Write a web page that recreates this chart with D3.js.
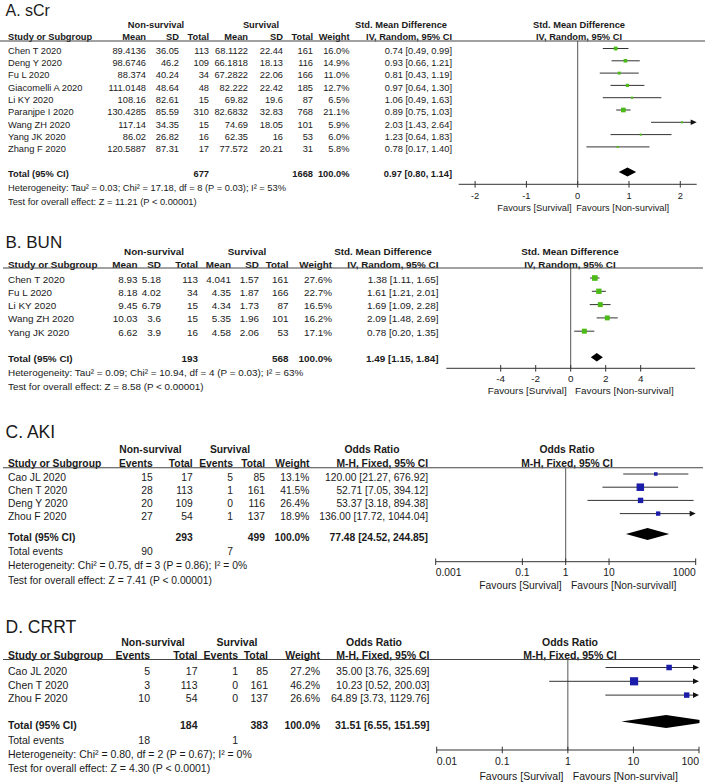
<!DOCTYPE html>
<html><head><meta charset="utf-8">
<script src="https://cdn.jsdelivr.net/npm/d3@7"></script>
<style>
body{margin:0;background:#fff;}
svg{display:block;font-family:"Liberation Sans",Arial,Helvetica,sans-serif;}
</style>
</head><body>
<svg id="chart" width="710" height="782"></svg>
<script>
// ---------------- Panel A: sCr ----------------
const aStudies = ["Chen T 2020","Deng Y 2020","Fu L 2020","Giacomelli A 2020","Li KY 2020","Paranjpe I 2020","Wang ZH 2020","Yang JK 2020","Zhang F 2020"];
const aNsMean  = [89.4136, 98.6746, 88.374, 111.0148, 108.16, 130.4285, 117.14, 86.02, 120.5887];
const aNsSD    = [36.05, 46.2, 40.24, 48.64, 82.61, 85.59, 34.35, 26.82, 87.31];
const aNsTotal = [113, 109, 34, 48, 15, 310, 15, 16, 17];
const aSMean   = [68.1122, 66.1818, 67.2822, 82.222, 69.82, 82.6832, 74.69, 62.35, 77.572];
const aSSD     = [22.44, 18.13, 22.06, 22.42, 19.6, 32.83, 18.05, 16, 20.21];
const aSTotal  = [161, 116, 166, 185, 87, 768, 101, 53, 31];
const aWeight  = [16.0, 14.9, 11.0, 12.7, 6.5, 21.1, 5.9, 6.0, 5.8];
const aEst     = [0.74, 0.93, 0.81, 0.97, 1.06, 0.89, 2.03, 1.23, 0.78];
const aLo      = [0.49, 0.66, 0.43, 0.64, 0.49, 0.75, 1.43, 0.64, 0.17];
const aHi      = [0.99, 1.21, 1.19, 1.30, 1.63, 1.03, 2.64, 1.83, 1.40];
const aTotal   = [677, 1668];
const aPooled  = [0.97, 0.80, 1.14];
const aTicks   = [-2, -1, 0, 1, 2];
const aStats   = ["Heterogeneity: Tau\u00b2 = 0.03; Chi\u00b2 = 17.18, df = 8 (P = 0.03); I\u00b2 = 53%", "Test for overall effect: Z = 11.21 (P < 0.00001)"];

// ---------------- Panel B: BUN ----------------
const bStudies = ["Chen T 2020","Fu L 2020","Li KY 2020","Wang ZH 2020","Yang JK 2020"];
const bNsMean  = [8.93, 8.18, 9.45, 10.03, 6.62];
const bNsSD    = [5.18, 4.02, 6.79, 3.6, 3.9];
const bNsTotal = [113, 34, 15, 15, 16];
const bSMean   = [4.041, 4.35, 4.34, 5.35, 4.58];
const bSSD     = [1.57, 1.87, 1.73, 1.96, 2.06];
const bSTotal  = [161, 166, 87, 101, 53];
const bWeight  = [27.6, 22.7, 16.5, 16.2, 17.1];
const bEst     = [1.38, 1.61, 1.69, 2.09, 0.78];
const bLo      = [1.11, 1.21, 1.09, 1.48, 0.20];
const bHi      = [1.65, 2.01, 2.28, 2.69, 1.35];
const bTotal   = [193, 568];
const bPooled  = [1.49, 1.15, 1.84];
const bTicks   = [-4, -2, 0, 2, 4];
const bStats   = ["Heterogeneity: Tau\u00b2 = 0.09; Chi\u00b2 = 10.94, df = 4 (P = 0.03); I\u00b2 = 63%", "Test for overall effect: Z = 8.58 (P < 0.00001)"];

// ---------------- Panel C: AKI ----------------
const cStudies  = ["Cao JL 2020","Chen T 2020","Deng Y 2020","Zhou F 2020"];
const cNsEvents = [15, 28, 20, 27];
const cNsTotal  = [17, 113, 109, 54];
const cSEvents  = [5, 1, 0, 1];
const cSTotal   = [85, 161, 116, 137];
const cWeight   = [13.1, 41.5, 26.4, 18.9];
const cEst      = [120.00, 52.71, 53.37, 136.00];
const cLo       = [21.27, 7.05, 3.18, 17.72];
const cHi       = [676.92, 394.12, 894.38, 1044.04];
const cTotal    = [293, 499];
const cEvents   = [90, 7];
const cPooled   = [77.48, 24.52, 244.85];
const cTicks    = [0.001, 0.1, 1, 10, 1000];
const cStats    = ["Heterogeneity: Chi\u00b2 = 0.75, df = 3 (P = 0.86); I\u00b2 = 0%", "Test for overall effect: Z = 7.41 (P < 0.00001)"];

// ---------------- Panel D: CRRT ----------------
const dStudies  = ["Cao JL 2020","Chen T 2020","Zhou F 2020"];
const dNsEvents = [5, 3, 10];
const dNsTotal  = [17, 113, 54];
const dSEvents  = [1, 0, 0];
const dSTotal   = [85, 161, 137];
const dWeight   = [27.2, 46.2, 26.6];
const dEst      = [35.00, 10.23, 64.89];
const dLo       = [3.76, 0.52, 3.73];
const dHi       = [325.69, 200.03, 1129.76];
const dTotal    = [184, 383];
const dEvents   = [18, 1];
const dPooled   = [31.51, 6.55, 151.59];
const dTicks    = [0.01, 0.1, 1, 10, 100];
const dStats    = ["Heterogeneity: Chi\u00b2 = 0.80, df = 2 (P = 0.67); I\u00b2 = 0%", "Test for overall effect: Z = 4.30 (P < 0.0001)"];

// ------------------------------------------------
const svg = d3.select("#chart");
const TXT = "#1a1a1a";
const ciStr = (e, l, h) => `${e.toFixed(2)} [${l.toFixed(2)}, ${h.toFixed(2)}]`;
const pct = w => w.toFixed(1) + "%";

function panel(cfg) {
  const g = svg.append("g");
  const fs = cfg.fs;
  const off = fs * 0.355;
  const T = (x, y, s, anchor, bold, size) => g.append("text")
      .attr("x", x).attr("y", y)
      .attr("text-anchor", anchor || "start")
      .attr("font-weight", bold ? "bold" : "normal")
      .attr("font-size", size || fs)
      .attr("fill", TXT).text(s);

  T(5.5, cfg.titleY, cfg.title, "start", false, cfg.titleFs);
  cfg.groups.forEach(gr => T(gr.x, cfg.h1 + off, gr.label, "middle", true));
  T(8, cfg.h2 + off, "Study or Subgroup", "start", true);
  cfg.cols.forEach(c => T(c.x, cfg.h2 + off, c.header, "end", true));
  T(cfg.plotHdrX, cfg.h1 + off, cfg.plotHdr[0], "middle", true);
  T(cfg.plotHdrX, cfg.h2 + off, cfg.plotHdr[1], "middle", true);
  g.append("line").attr("x1", cfg.lineX[0]).attr("x2", cfg.lineX[1])
    .attr("y1", cfg.lineY).attr("y2", cfg.lineY)
    .attr("stroke", "#444").attr("stroke-width", 1.1);

  const rowY = i => cfg.row0 + i * cfg.step;
  cfg.studies.forEach((s, i) => {
    const cy = rowY(i);
    T(8, cy + off, s);
    cfg.cols.forEach(c => T(c.x, cy + off, c.vals[i], "end"));
  });
  T(8, cfg.totalY + off, "Total (95% CI)", "start", true);
  cfg.cols.forEach(c => { if (c.total !== undefined) T(c.x, cfg.totalY + off, c.total, "end", true); });
  if (cfg.events) {
    T(8, cfg.eventsY + off, "Total events");
    cfg.events.forEach(ev => T(ev.x, cfg.eventsY + off, ev.v, "end"));
  }
  cfg.stats.forEach((s, i) => T(8, cfg.statsY[i] + off, s));

  // ---------- plot ----------
  const x = (cfg.log ? d3.scaleLog() : d3.scaleLinear()).domain(cfg.domain).range(cfg.range);
  const x0 = x(cfg.log ? 1 : 0);
  const [r0, r1] = cfg.range;
  g.append("line").attr("x1", x0).attr("x2", x0).attr("y1", cfg.lineY).attr("y2", cfg.axisY)
    .attr("stroke", "#555").attr("stroke-width", 1);
  g.append("line").attr("x1", r0).attr("x2", r1).attr("y1", cfg.axisY).attr("y2", cfg.axisY)
    .attr("stroke", "#333").attr("stroke-width", 1);
  cfg.ticks.forEach((t, i) => {
    const tx = x(t);
    g.append("line").attr("x1", tx).attr("x2", tx).attr("y1", cfg.axisY - 3.3).attr("y2", cfg.axisY + 3.3)
      .attr("stroke", "#333").attr("stroke-width", 1);
    let anchor = "middle";
    if (cfg.edgeLabels && i === 0) anchor = "start";
    if (cfg.edgeLabels && i === cfg.ticks.length - 1) anchor = "end";
    T(tx, cfg.tickY + off, String(t), anchor);
  });
  T(x0 + cfg.favGap[0], cfg.favY + off, "Favours [Survival]", "end");
  T(x0 + cfg.favGap[1], cfg.favY + off, cfg.favRight, "start");

  const size = d3.scaleLinear().domain([0, 100]).range(cfg.sizeRange);
  cfg.est.forEach((e, i) => {
    const cy = rowY(i) + cfg.markOff;
    const lo = cfg.lo[i], hi = cfg.hi[i];
    const over = hi > cfg.domain[1];
    const xl = lo < cfg.domain[0] ? r0 : x(lo);
    const xh = over ? r1 : x(hi);
    g.append("line").attr("x1", xl).attr("x2", over ? xh - 4 : xh)
      .attr("y1", cy).attr("y2", cy).attr("stroke", "#333").attr("stroke-width", 1);
    if (over) {
      g.append("path").attr("d", `M${xh},${cy} L${xh - 6},${cy - 2.8} L${xh - 6},${cy + 2.8} Z`).attr("fill", "#111");
    }
    const s = size(cfg.weight[i]);
    g.append("rect").attr("x", x(e) - s / 2).attr("y", cy - s / 2).attr("width", s).attr("height", s)
      .attr("fill", cfg.color);
  });
  const clipId = "clip" + cfg.id;
  g.append("clipPath").attr("id", clipId).append("rect")
    .attr("x", r0).attr("y", cfg.lineY).attr("width", r1 - r0 + 0.5).attr("height", cfg.axisY - cfg.lineY);
  const dy = cfg.totalY + cfg.markOff;
  const [pe, pl, ph] = cfg.pooled;
  const h = cfg.diamondH;
  g.append("path")
    .attr("clip-path", `url(#${clipId})`)
    .attr("d", `M${x(pl)},${dy} L${x(pe)},${dy - h} L${x(ph)},${dy} L${x(pe)},${dy + h} Z`)
    .attr("fill", "#000");
}

panel({
  id: "A", title: "A. sCr", titleFs: 16, titleY: 15.5, fs: 9.3,
  h1: 24.5, h2: 36.3, lineY: 41, lineX: [0, 705],
  row0: 50.5, step: 12.3, totalY: 174, statsY: [187.6, 201.2], stats: aStats,
  studies: aStudies,
  groups: [{x: 156, label: "Non-survival"}, {x: 261, label: "Survival"}, {x: 401, label: "Std. Mean Difference"}],
  cols: [
    {x: 146, header: "Mean", vals: aNsMean.map(String)},
    {x: 179, header: "SD", vals: aNsSD.map(String)},
    {x: 209, header: "Total", vals: aNsTotal.map(String), total: String(aTotal[0])},
    {x: 248, header: "Mean", vals: aSMean.map(String)},
    {x: 283, header: "SD", vals: aSSD.map(String)},
    {x: 313, header: "Total", vals: aSTotal.map(String), total: String(aTotal[1])},
    {x: 349.5, header: "Weight", vals: aWeight.map(pct), total: "100.0%"},
    {x: 452, header: "IV, Random, 95% CI", vals: aEst.map((e, i) => ciStr(e, aLo[i], aHi[i])), total: ciStr(...aPooled)}
  ],
  plotHdrX: 579, plotHdr: ["Std. Mean Difference", "IV, Random, 95% CI"],
  log: false, domain: [-2.32, 2.32], range: [458.7, 696.7], ticks: aTicks, edgeLabels: false,
  axisY: 184.3, tickY: 195.5, favY: 207.5, favGap: [-6, -1.5], favRight: "Favours [Non-survival]",
  est: aEst, lo: aLo, hi: aHi, weight: aWeight, pooled: aPooled,
  sizeRange: [0.95, 18.75], color: "#4cbb17", markOff: -2, diamondH: 4.6
});

panel({
  id: "B", title: "B. BUN", titleFs: 17, titleY: 248.3, fs: 9.9,
  h1: 251, h2: 264.3, lineY: 268, lineX: [3, 703],
  row0: 279, step: 13.3, totalY: 358.3, statsY: [372.5, 386], stats: bStats,
  studies: bStudies,
  groups: [{x: 154, label: "Non-survival"}, {x: 247, label: "Survival"}, {x: 383, label: "Std. Mean Difference"}],
  cols: [
    {x: 137.5, header: "Mean", vals: bNsMean.map(String)},
    {x: 161, header: "SD", vals: bNsSD.map(String)},
    {x: 198, header: "Total", vals: bNsTotal.map(String), total: String(bTotal[0])},
    {x: 231, header: "Mean", vals: bSMean.map(String)},
    {x: 259, header: "SD", vals: bSSD.map(String)},
    {x: 288.5, header: "Total", vals: bSTotal.map(String), total: String(bTotal[1])},
    {x: 332, header: "Weight", vals: bWeight.map(pct), total: "100.0%"},
    {x: 438.5, header: "IV, Random, 95% CI", vals: bEst.map((e, i) => ciStr(e, bLo[i], bHi[i])), total: ciStr(...bPooled)}
  ],
  plotHdrX: 570, plotHdr: ["Std. Mean Difference", "IV, Random, 95% CI"],
  log: false, domain: [-7.11, 7.11], range: [446.3, 695.1], ticks: bTicks, edgeLabels: false,
  axisY: 368.3, tickY: 378.3, favY: 390.7, favGap: [-4, 4.3], favRight: "Favours [Non-survival]",
  est: bEst, lo: bLo, hi: bHi, weight: bWeight, pooled: bPooled,
  sizeRange: [3.9, 10.2], color: "#4cbb17", markOff: -1, diamondH: 4.3
});

panel({
  id: "C", title: "C. AKI", titleFs: 17.5, titleY: 438.3, fs: 10.3,
  h1: 449, h2: 463.8, lineY: 467.7, lineX: [3, 703],
  row0: 477, step: 13.2, totalY: 537, eventsY: 551.5, statsY: [565.5, 580], stats: cStats,
  studies: cStudies,
  groups: [{x: 150.5, label: "Non-survival"}, {x: 230, label: "Survival"}, {x: 372, label: "Odds Ratio"}],
  cols: [
    {x: 152.7, header: "Events", vals: cNsEvents.map(String)},
    {x: 192.7, header: "Total", vals: cNsTotal.map(String), total: String(cTotal[0])},
    {x: 233, header: "Events", vals: cSEvents.map(String)},
    {x: 265, header: "Total", vals: cSTotal.map(String), total: String(cTotal[1])},
    {x: 309.5, header: "Weight", vals: cWeight.map(pct), total: "100.0%"},
    {x: 428, header: "M-H, Fixed, 95% CI", vals: cEst.map((e, i) => ciStr(e, cLo[i], cHi[i])), total: ciStr(...cPooled)}
  ],
  events: [{x: 152.7, v: String(cEvents[0])}, {x: 233, v: String(cEvents[1])}],
  plotHdrX: 567, plotHdr: ["Odds Ratio", "M-H, Fixed, 95% CI"],
  log: true, domain: [0.001, 1000], range: [435.7, 695.7], ticks: cTicks, edgeLabels: true,
  axisY: 561.7, tickY: 572, favY: 585, favGap: [-4, 5.3], favRight: "Favours [Non-survivall]",
  est: cEst, lo: cLo, hi: cHi, weight: cWeight, pooled: cPooled,
  sizeRange: [1.7, 15.7], color: "#1c1caa", markOff: -3, diamondH: 6
});

panel({
  id: "D", title: "D. CRRT", titleFs: 17.5, titleY: 633, fs: 10.5,
  h1: 642, h2: 655.3, lineY: 659.5, lineX: [3, 700],
  row0: 671, step: 13.8, totalY: 725, eventsY: 740, statsY: [754, 768], stats: dStats,
  studies: dStudies,
  groups: [{x: 153, label: "Non-survival"}, {x: 237, label: "Survival"}, {x: 374, label: "Odds Ratio"}],
  cols: [
    {x: 150, header: "Events", vals: dNsEvents.map(String)},
    {x: 197.5, header: "Total", vals: dNsTotal.map(String), total: String(dTotal[0])},
    {x: 238, header: "Events", vals: dSEvents.map(String)},
    {x: 268, header: "Total", vals: dSTotal.map(String), total: String(dTotal[1])},
    {x: 320, header: "Weight", vals: dWeight.map(pct), total: "100.0%"},
    {x: 429.5, header: "M-H, Fixed, 95% CI", vals: dEst.map((e, i) => ciStr(e, dLo[i], dHi[i])), total: ciStr(...dPooled)}
  ],
  events: [{x: 150, v: String(dEvents[0])}, {x: 238, v: String(dEvents[1])}],
  plotHdrX: 570, plotHdr: ["Odds Ratio", "M-H, Fixed, 95% CI"],
  log: true, domain: [0.01, 100], range: [436.7, 699], ticks: dTicks, edgeLabels: true,
  axisY: 750, tickY: 761.7, favY: 776, favGap: [-4.4, 5], favRight: "Favours [Non-survival]",
  est: dEst, lo: dLo, hi: dHi, weight: dWeight, pooled: dPooled,
  sizeRange: [1.7, 15.7], color: "#1c1caa", markOff: -3.5, diamondH: 6.5
});
</script>
</body></html>
